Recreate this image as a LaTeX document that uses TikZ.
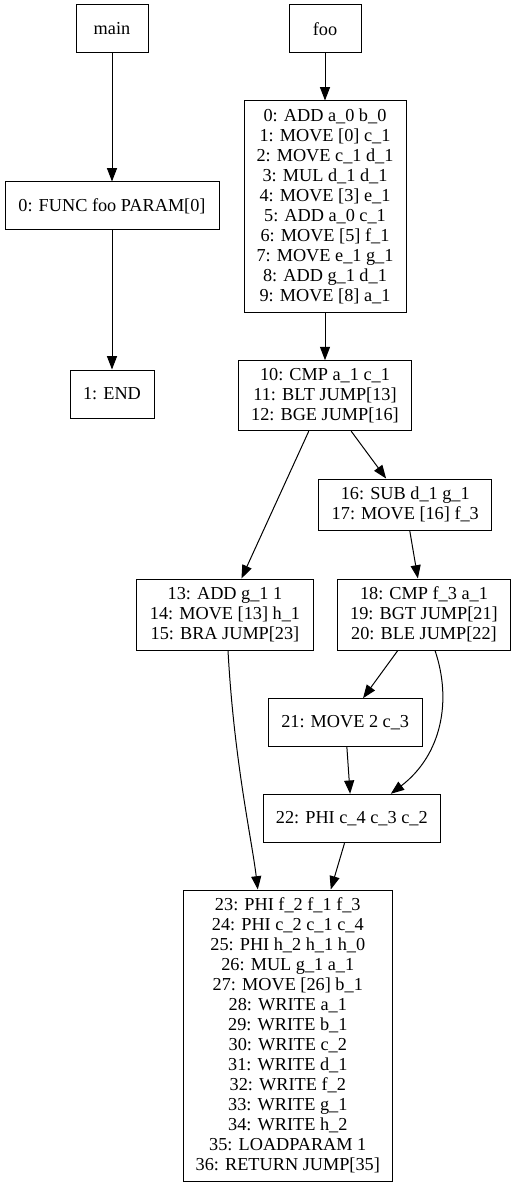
\documentclass[tikz,border=0pt]{standalone}
\usepackage{fontspec}
\setmainfont{Liberation Serif}
\usetikzlibrary{calc}
\usetikzlibrary{arrows.meta}
\definecolor{color_cfg_bg}{HTML}{FFFFFF}
\definecolor{color_cfg_line}{HTML}{000000}
\def\cfglinewidth{0.75pt}
\def\cfgfontsize{\fontsize{13.7}{15}\selectfont}
\tikzset{
    cfg_block/.style={draw=color_cfg_line, line width=\cfglinewidth, align=center, inner sep=0pt, font=\cfgfontsize},
    cfg_edge/.style={draw=color_cfg_line, line width=\cfglinewidth, -{Triangle[length=10pt,width=7.5pt]}}
}

\begin{document}
\begin{tikzpicture}[x=0.75pt,y=-0.75pt]
        \fill[color_cfg_bg] (0,0) rectangle (516,1187);
        \useasboundingbox (0,0) rectangle (516,1187);
        % function entries
        \node[cfg_block, minimum width=54pt, minimum height=36pt] (main) at (112,29) {main};
        \node[cfg_block, minimum width=54pt, minimum height=36pt] (foo) at (325,29) {foo};
        % main
        \node[cfg_block, minimum width=160.5pt, minimum height=36pt] (func0) at (112,206) {0: FUNC foo PARAM[0]};
        \node[cfg_block, minimum width=63pt, minimum height=36pt] (end1) at (112,394) {1: END};
        % foo
        \node[cfg_block, minimum width=121.5pt, minimum height=158.25pt] (b0) at (325,206.5) {0: ADD a\_0 b\_0\\1: MOVE [0] c\_1\\2: MOVE c\_1 d\_1\\3: MUL d\_1 d\_1\\4: MOVE [3] e\_1\\5: ADD a\_0 c\_1\\6: MOVE [5] f\_1\\7: MOVE e\_1 g\_1\\8: ADD g\_1 d\_1\\9: MOVE [8] a\_1};
        \node[cfg_block, minimum width=130pt, minimum height=52.5pt] (b10) at (325,395.7) {10: CMP a\_1 c\_1\\11: BLT JUMP[13]\\12: BGE JUMP[16]};
        \node[cfg_block, minimum width=130pt, minimum height=38.25pt] (b16) at (405.3,504.5) {16: SUB d\_1 g\_1\\17: MOVE [16] f\_3};
        \node[cfg_block, minimum width=132.5pt, minimum height=53.25pt] (b13) at (225,614.5) {13: ADD g\_1 1\\14: MOVE [13] h\_1\\15: BRA JUMP[23]};
        \node[cfg_block, minimum width=130pt, minimum height=53.25pt] (b18) at (424,614.5) {18: CMP f\_3 a\_1\\19: BGT JUMP[21]\\20: BLE JUMP[22]};
        \node[cfg_block, minimum width=115.3pt, minimum height=36pt] (b21) at (345.2,722.7) {21: MOVE 2 c\_3};
        \node[cfg_block, minimum width=132.8pt, minimum height=36.3pt] (b22) at (351.8,818.5) {22: PHI c\_4 c\_3 c\_2};
        \node[cfg_block, minimum width=156.75pt, minimum height=218.25pt] (b23) at (287.8,1035.5) {23: PHI f\_2 f\_1 f\_3\\24: PHI c\_2 c\_1 c\_4\\25: PHI h\_2 h\_1 h\_0\\26: MUL g\_1 a\_1\\27: MOVE [26] b\_1\\28: WRITE a\_1\\29: WRITE b\_1\\30: WRITE c\_2\\31: WRITE d\_1\\32: WRITE f\_2\\33: WRITE g\_1\\34: WRITE h\_2\\35: LOADPARAM 1\\36: RETURN JUMP[35]};
        % edges
        \draw[cfg_edge] (main) -- (func0);
        \draw[cfg_edge] (func0) -- (end1);
        \draw[cfg_edge] (foo) -- (b0);
        \draw[cfg_edge] (b0) -- (b10);
        \draw[cfg_edge] (b10) -- (b16);
        \draw[cfg_edge] (b10) -- (b13);
        \draw[cfg_edge] (b16) -- (b18);
        \draw[cfg_edge] (b18) -- (b21);
        \draw[cfg_edge] (b21) -- (b22);
        \draw[cfg_edge] (b22) -- (b23);
        \draw[cfg_edge] ($(b13.south)+(3,0)$) .. controls +(6,110) and +(-6,-50) .. ($(b23.north)+(-30,0)$);
        \draw[cfg_edge] ($(b18.south)+(11,0)$) .. controls +(17,50) and +(51,-39) .. ($(b22.north)+(39,0)$);
    \end{tikzpicture}
\end{document}
